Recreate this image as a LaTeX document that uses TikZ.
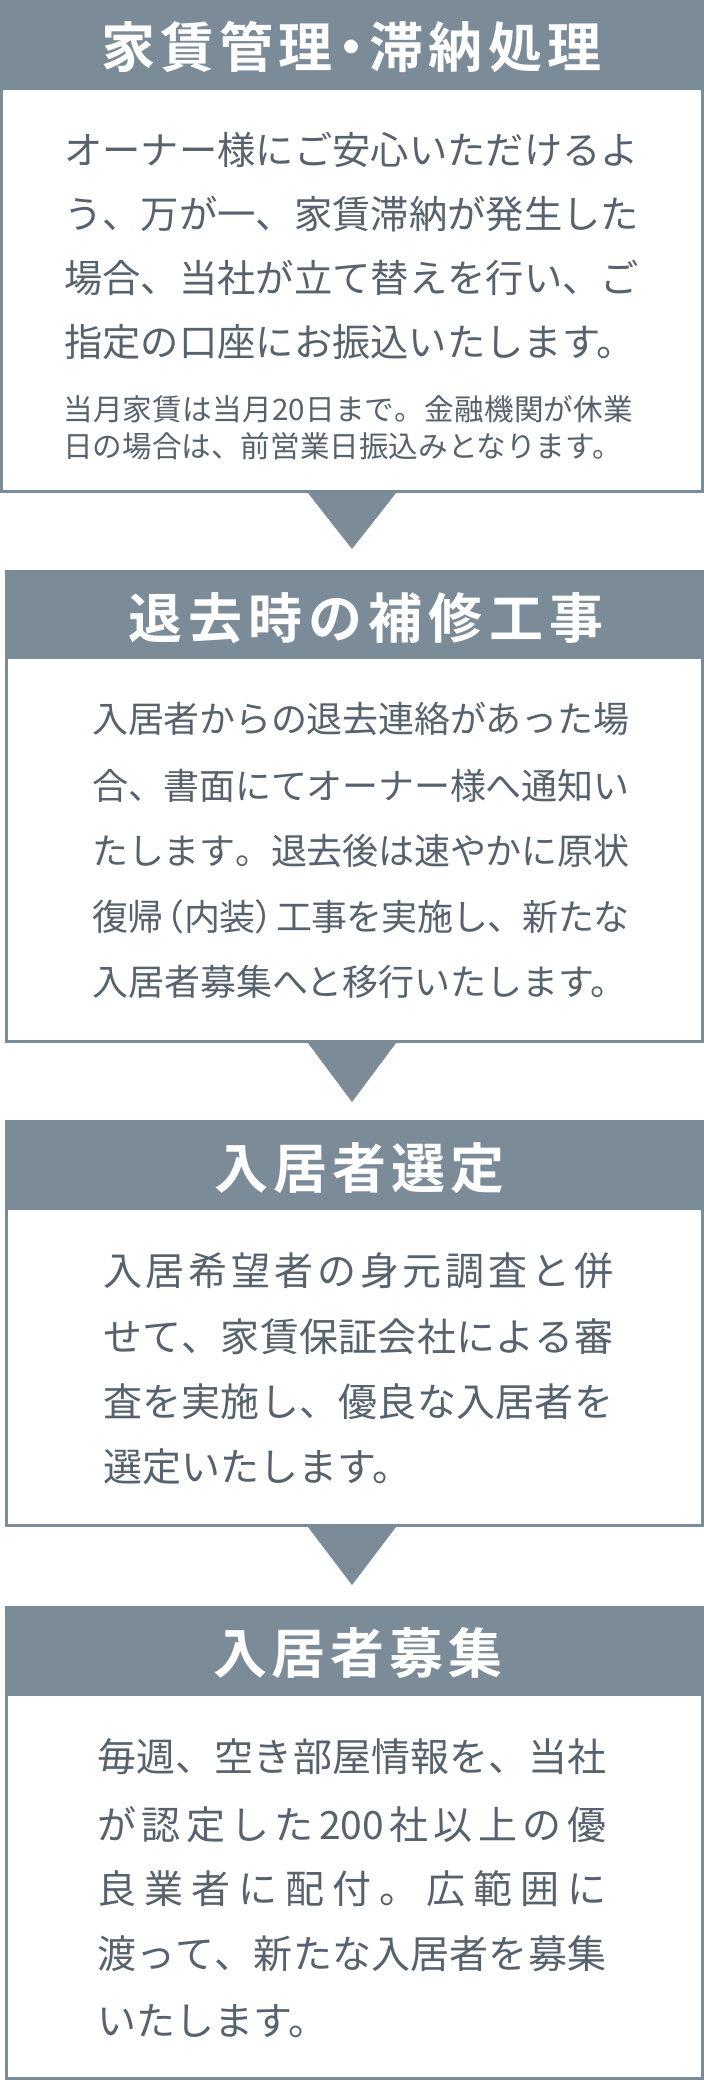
\documentclass[tikz,border=0pt]{standalone}
\usepackage{fontspec}
\setmainfont{Noto Sans CJK JP}[BoldFont={Noto Sans CJK JP Bold}]
\definecolor{hd}{HTML}{7B8C98}
\definecolor{txt}{HTML}{56626D}
\makeatletter
\def\spr@a#1#2\@nil{#1\ifx\relax#2\relax\else\hss\spr@a#2\@nil\fi}
\newcommand\spreadto[2]{\hbox to #1{\spr@a#2\@nil}}
\makeatother
\newcommand\lpar{\hbox to 0.62em{\hss （}}
\newcommand\rpar{\hbox to 0.62em{）\hss}}
\newcommand\mdot{\hbox to 0.5em{\hss ・\hss}}
\tikzset{
  hdbox/.style={fill=hd, draw=none},
  bodybox/.style={draw=hd, line width=3pt},
  tri/.style={fill=hd, draw=none},
  ttl/.style={anchor=base west, inner sep=0pt, text=white, font=\fontsize{54}{54}\selectfont\bfseries},
  bA/.style={anchor=base west, inner sep=0pt, text=txt, font=\fontsize{38.3}{40}\selectfont},
  bS/.style={anchor=base west, inner sep=0pt, text=txt, font=\fontsize{29.6}{30}\selectfont},
  bB/.style={anchor=base west, inner sep=0pt, text=txt, font=\fontsize{36}{38}\selectfont},
  bC/.style={anchor=base west, inner sep=0pt, text=txt, font=\fontsize{39}{40}\selectfont},
}
\begin{document}
\begin{tikzpicture}[x=1pt,y=-1pt]
\useasboundingbox (0,0) rectangle (704,2080);
\fill[white] (0,0) rectangle (704,2080);
% ---------- box 1
\coordinate (h1a) at (0,0); \coordinate (h1b) at (704,88);
\coordinate (b1a) at (1.5,88); \coordinate (b1b) at (702.5,491.5);
\fill[hdbox] (h1a) rectangle (h1b);
\draw[bodybox] (b1a) rectangle (b1b);
\node[ttl] (t1) at (101,67.5) {\spreadto{500pt}{家賃管理{\mdot}滞納処理}};
\node[bA] (p1a) at (64,164.6) {\spreadto{575pt}{オーナー様にご安心いただけるよ}};
\node[bA] (p1b) at (64,228.6) {\spreadto{575pt}{う、万が一、家賃滞納が発生した}};
\node[bA] (p1c) at (64,292.6) {\spreadto{575pt}{場合、当社が立て替えを行い、ご}};
\node[bA] (p1d) at (64,356) {指定の口座にお振込いたします。};
\node[bS] (s1a) at (63,420) {\spreadto{570pt}{当月家賃は当月{20}日まで。金融機関が休業}};
\node[bS] (s1b) at (63,457) {日の場合は、前営業日振込みとなります。};
% arrow 1
\coordinate (a1l) at (308,493); \coordinate (a1r) at (396,493); \coordinate (a1t) at (352,549);
\fill[tri] (a1l) -- (a1r) -- (a1t) -- cycle;
% ---------- box 2
\coordinate (h2a) at (5,570); \coordinate (h2b) at (704,657);
\coordinate (b2a) at (6.5,657); \coordinate (b2b) at (702.5,1041.5);
\fill[hdbox] (h2a) rectangle (h2b);
\draw[bodybox] (b2a) rectangle (b2b);
\node[ttl] (t2) at (128,638.5) {\spreadto{475pt}{退去時の補修工事}};
\node[bB] (p2a) at (92,732.7) {\spreadto{537pt}{入居者からの退去連絡があった場}};
\node[bB] (p2b) at (92,799.7) {\spreadto{537pt}{合、書面にてオーナー様へ通知い}};
\node[bB] (p2c) at (92,864.7) {\spreadto{537pt}{たします。退去後は速やかに原状}};
\node[bB] (p2d) at (92,930.7) {\spreadto{537pt}{復帰{\lpar}内装{\rpar}工事を実施し、新たな}};
\node[bB] (p2e) at (92,995.7) {入居者募集へと移行いたします。};
% arrow 2
\coordinate (a2l) at (308,1043); \coordinate (a2r) at (396,1043); \coordinate (a2t) at (352,1102);
\fill[tri] (a2l) -- (a2r) -- (a2t) -- cycle;
% ---------- box 3
\coordinate (h3a) at (5,1120); \coordinate (h3b) at (704,1208);
\coordinate (b3a) at (6.5,1208); \coordinate (b3b) at (702.5,1525.5);
\fill[hdbox] (h3a) rectangle (h3b);
\draw[bodybox] (b3a) rectangle (b3b);
\node[ttl] (t3) at (214,1188.5) {\spreadto{290pt}{入居者選定}};
\node[bC] (p3a) at (103,1285.8) {\spreadto{510pt}{入居希望者の身元調査と併}};
\node[bC] (p3b) at (103,1351.8) {\spreadto{510pt}{せて、家賃保証会社による審}};
\node[bC] (p3c) at (103,1416.8) {\spreadto{510pt}{査を実施し、優良な入居者を}};
\node[bC] (p3d) at (103,1481.8) {選定いたします。};
% arrow 3
\coordinate (a3l) at (308,1527); \coordinate (a3r) at (396,1527); \coordinate (a3t) at (352,1585);
\fill[tri] (a3l) -- (a3r) -- (a3t) -- cycle;
% ---------- box 4
\coordinate (h4a) at (5,1606); \coordinate (h4b) at (704,1694);
\coordinate (b4a) at (6.5,1694); \coordinate (b4b) at (702.5,2078.5);
\fill[hdbox] (h4a) rectangle (h4b);
\draw[bodybox] (b4a) rectangle (b4b);
\node[ttl] (t4) at (213,1673.5) {\spreadto{289pt}{入居者募集}};
\node[bC] (p4a) at (97,1771.8) {\spreadto{509pt}{毎週、空き部屋情報を、当社}};
\node[bC] (p4b) at (97,1839.8) {\spreadto{509pt}{が認定した{200}社以上の優}};
\node[bC] (p4c) at (97,1903.8) {\spreadto{509pt}{良業者に配付。広範囲に}};
\node[bC] (p4d) at (97,1968.8) {\spreadto{509pt}{渡って、新たな入居者を募集}};
\node[bC] (p4e) at (97,2035.8) {いたします。};
\end{tikzpicture}
\end{document}
